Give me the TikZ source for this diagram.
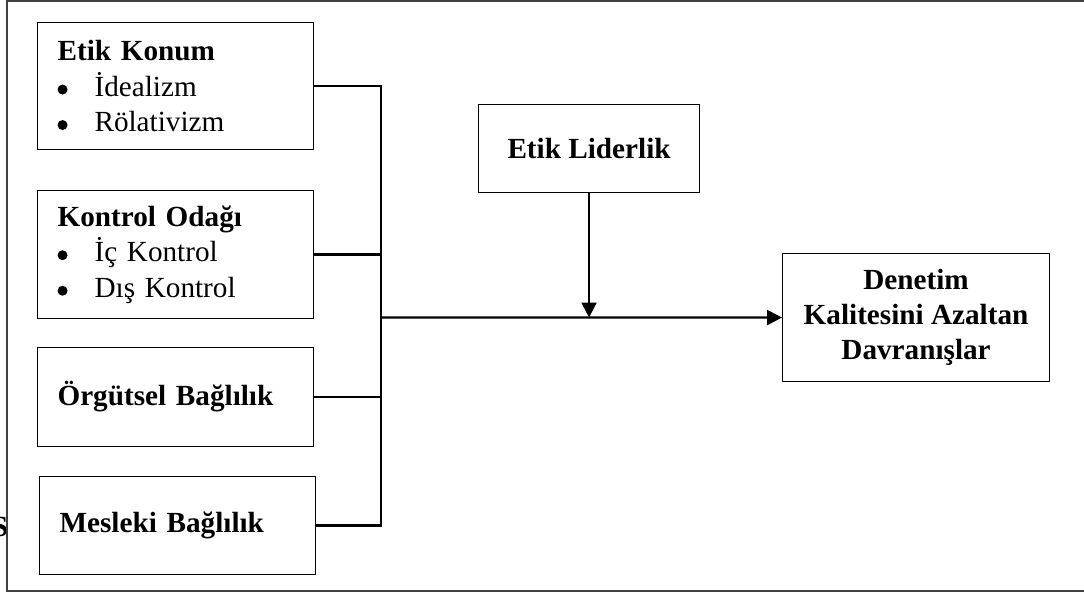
\documentclass[tikz,border=0pt]{standalone}
\usepackage{fontspec}
\setmainfont{Liberation Serif}
\usetikzlibrary{arrows.meta}

% round list bullet followed by a fixed indent
\newcommand\bul{\makebox[37pt][l]{\tikz[baseline=-6.5pt,x=1pt,y=1pt]\fill[black] (5,0) circle (5pt);}}

\begin{document}
\begin{tikzpicture}[x=1pt,y=-1pt,
  txt/.style={font=\fontsize{29.2}{35.5}\selectfont},
  btxt/.style={font=\bfseries\fontsize{29.2}{35}\selectfont},
  box/.style={draw=black,line width=1.1pt,txt,inner xsep=20pt,inner ysep=0pt,
    anchor=north west},
  lbox/.style={box,align=left,text width=#1},
  cbox/.style={box,align=center,btxt},
  wire/.style={line width=2.2pt},
  arr/.style={wire,-{Triangle[length=15pt,width=15pt]}}]
\useasboundingbox (0,0) rectangle (1084,594);

% stray glyph partly hidden at the left margin
\node[btxt,anchor=base,inner sep=0pt] (stray) at (0,536) {S};

% outer frame, open beyond the right edge
\draw[line width=1.5pt,draw=black!75] (7,1) rectangle (1110,591);

% input boxes
\node[lbox=236pt,minimum width=276pt,minimum height=127pt] (ek) at (37,22)
  {\textbf{Etik Konum}\\ \bul İdealizm\\ \bul Rölativizm};
\node[lbox=236pt,minimum width=276pt,minimum height=128pt] (ko) at (37,190)
  {\textbf{Kontrol Odağı}\\ \bul İç Kontrol\\ \bul Dış Kontrol};
\node[lbox=236pt,minimum width=276pt,minimum height=99pt,btxt] (ob) at (37,347)
  {Örgütsel Bağlılık};
\node[lbox=236pt,minimum width=276pt,minimum height=98pt,btxt] (mb) at (39,476)
  {Mesleki Bağlılık};

% moderator and outcome
\node[cbox,minimum width=221pt,minimum height=88pt,inner xsep=5pt] (el) at (478,104)
  {Etik Liderlik};
\node[cbox,minimum width=267pt,minimum height=128pt,inner xsep=5pt] (dk) at (782,253)
  {Denetim\\ Kalitesini Azaltan\\ Davranışlar};

% collecting bus
\coordinate (busx) at (381,0);
\coordinate (join) at (381,317.5);
\draw[wire] (ek.east) -- (ek.east -| busx) -- (mb.east -| busx) -- (mb.east);
\draw[wire] (ko.east) -- (ko.east -| busx);
\draw[wire] (ob.east) -- (ob.east -| busx);

% main path and moderating arrow
\draw[arr] (join) -- (dk.west);
\draw[arr] (el.south) -- (el.south |- join);
\end{tikzpicture}
\end{document}
